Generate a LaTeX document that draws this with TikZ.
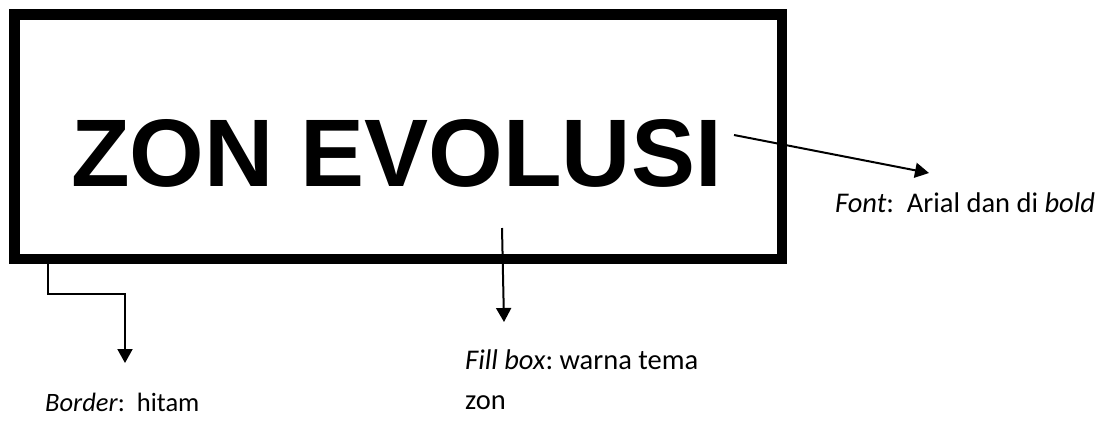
\documentclass[tikz,border=0pt]{standalone}
\usepackage{fontspec}
\setmainfont{Carlito}
\newfontfamily\arialfont{Liberation Sans}
\usetikzlibrary{arrows.meta}
\frenchspacing
\tikzset{
  zonebox/.style={draw=black, line width=10.5pt, fill=white, minimum width=767.5pt, minimum height=244.5pt, inner sep=0pt},
  titletext/.style={font=\arialfont\bfseries\fontsize{96}{110}\selectfont, inner sep=0pt, anchor=base},
  lbl/.style={font=\fontsize{28.5}{34}\selectfont, inner sep=0pt, anchor=base west},
  pointer/.style={line width=2pt, -{Triangle[width=15pt,length=14pt]}},
}
\begin{document}
\begin{tikzpicture}[x=1pt,y=-1pt]
\useasboundingbox (0,0) rectangle (1119,424);
\node[zonebox] (box) at (398,136.5) {};
\node[titletext] (title) at (396.5,186) {ZON EVOLUSI};
\node[lbl] (fontlbl) at (835,212) {\textit{Font}:\ \ Arial dan di \textit{bold}};
\node[lbl] (fill1) at (465,369) {\textit{Fill box}: warna tema};
\node[lbl] (fill2) at (465,409) {zon};
\node[lbl, font=\fontsize{26.5}{32}\selectfont] (borderlbl) at (45,411) {\textit{Border}:\ \ hitam};
\coordinate (fs) at (734,135);
\coordinate (ft) at (929,173);
\coordinate (fls) at (502,228);
\coordinate (flt) at (504,322);
\coordinate (bs) at (48,264);
\coordinate (bt) at (125,363);
\draw[pointer] (fs) -- (ft);
\draw[pointer] (fls) -- (flt);
\draw[pointer] (bs) |- (125,294) -- (bt);
\end{tikzpicture}
\end{document}
